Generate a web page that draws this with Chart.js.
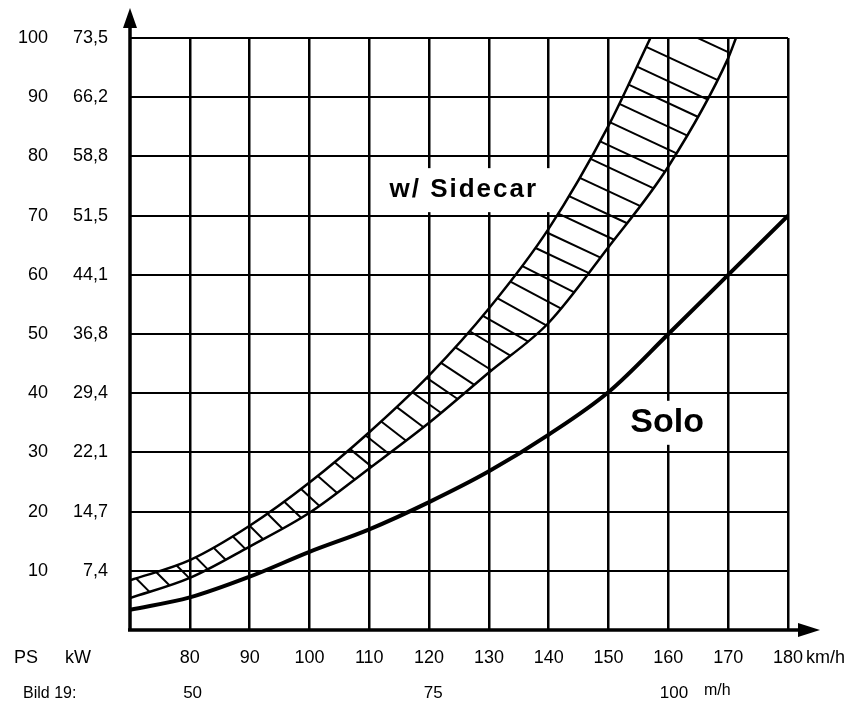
<!DOCTYPE html>
<html>
<head>
<meta charset="utf-8">
<title>Fahrleistung Solo / Seitenwagen</title>
<script src="https://cdn.jsdelivr.net/npm/chart.js@4.4.0/dist/chart.umd.min.js"></script>
<style>
  html, body { margin: 0; padding: 0; background: #fff; }
</style>
</head>
<body>
<canvas id="powerChart" width="847" height="703"></canvas>
<script>
// speed in km/h, power in PS
const soloSpeed = [70, 80, 90, 100, 110, 120, 130, 140, 150, 160, 170, 180];
const soloPower = [3.4, 5.5, 9.0, 13.2, 17.0, 21.6, 26.8, 33.0, 40.2, 50, 60, 70];

const sidecarHighSpeed = [70, 80, 90, 100, 110, 120, 130, 140, 150, 157];
const sidecarHighPower = [8.4, 11.8, 17.6, 24.9, 33.4, 43, 54.3, 67.8, 85.2, 100];

const sidecarLowSpeed = [70, 80, 90, 100, 110, 120, 130, 140, 150, 160, 170, 171.3];
const sidecarLowPower = [5.4, 8.8, 14.1, 19.8, 27.3, 35.0, 43.5, 51.9, 64.7, 78.3, 96.6, 100];

const speedTicks = [80, 90, 100, 110, 120, 130, 140, 150, 160, 170, 180];
const psTicks = [10, 20, 30, 40, 50, 60, 70, 80, 90, 100];
const kwLabels = ['7,4', '14,7', '22,1', '29,4', '36,8', '44,1', '51,5', '58,8', '66,2', '73,5'];
const mphTicks = [50, 75, 100];

const KMH_PER_MPH = 1.609344;
const FONT = '"Liberation Sans", Arial, Helvetica, sans-serif';

function pairs(xs, ys) {
  return xs.map((v, i) => ({ x: v, y: ys[i] }));
}

// sample the bezier segments that chart.js computed for a line
function samplePath(points) {
  const out = [];
  for (let i = 0; i < points.length - 1; i++) {
    const a = points[i], b = points[i + 1];
    const c1x = a.cp2x ?? a.x, c1y = a.cp2y ?? a.y;
    const c2x = b.cp1x ?? b.x, c2y = b.cp1y ?? b.y;
    for (let t = 0; t < 1; t += 0.02) {
      const u = 1 - t;
      out.push({
        x: u*u*u*a.x + 3*u*u*t*c1x + 3*u*t*t*c2x + t*t*t*b.x,
        y: u*u*u*a.y + 3*u*u*t*c1y + 3*u*t*t*c2y + t*t*t*b.y
      });
    }
  }
  const last = points[points.length - 1];
  out.push({ x: last.x, y: last.y });
  // run on past the end along the last direction, only for the hatching (clipped)
  const pre = out[out.length - 2];
  const dx = last.x - pre.x, dy = last.y - pre.y, dl = Math.hypot(dx, dy);
  for (let k = 1; k <= 12; k++) out.push({ x: last.x + dx / dl * 10 * k, y: last.y + dy / dl * 10 * k });
  return out;
}

// distance along ray p + s*n to the polyline, or null
function rayHit(p, n, path) {
  let best = null;
  for (let i = 1; i < path.length; i++) {
    const a = path[i - 1], b = path[i];
    const ex = b.x - a.x, ey = b.y - a.y;
    const den = n.x * ey - n.y * ex;
    if (Math.abs(den) < 1e-9) continue;
    const dx = a.x - p.x, dy = a.y - p.y;
    const s = (dx * ey - dy * ex) / den;
    const t = (dx * n.y - dy * n.x) / den;
    if (s > 0 && t >= 0 && t <= 1 && (best === null || s < best)) best = s;
  }
  return best;
}

const hatchPlugin = {
  id: 'hatch',
  beforeDatasetsDraw(chart) {
    const upper = samplePath(chart.getDatasetMeta(1).data);
    const lower = samplePath(chart.getDatasetMeta(2).data);
    const { ctx, chartArea } = chart;
    ctx.save();
    ctx.beginPath();
    ctx.rect(chartArea.left, chartArea.top, chartArea.width, chartArea.height);
    ctx.clip();
    ctx.strokeStyle = '#000';
    ctx.lineWidth = 2;
    let dist = 0, next = 6;
    for (let i = 1; i < upper.length - 1; i++) {
      const p0 = upper[i - 1], p1 = upper[i], p2 = upper[i + 1];
      dist += Math.hypot(p1.x - p0.x, p1.y - p0.y);
      if (dist < next) continue;
      next += 21;
      // hatch angle follows the band's slope a little
      const band = Math.atan2(p0.y - p2.y, p2.x - p0.x) * 180 / Math.PI;
      const ang = Math.min(45, Math.max(25, 80 - band)) * Math.PI / 180;
      const n = { x: Math.cos(ang), y: Math.sin(ang) };
      const s = rayHit(p1, n, lower);
      if (s === null) continue;
      ctx.beginPath();
      ctx.moveTo(p1.x, p1.y);
      ctx.lineTo(p1.x + n.x * s, p1.y + n.y * s);
      ctx.stroke();
    }
    ctx.restore();
  }
};

// curve names inside the plot, placed in data units
const curveNotes = [
  { text: 'w/ Sidecar', x: 125.8, y: 74.3, size: 26, spacing: 2 },
  { text: 'Solo', x: 159.8, y: 35.0, size: 34, spacing: 0 }
];

const notePlugin = {
  id: 'notes',
  afterDatasetsDraw(chart) {
    const { ctx, scales: { x, y } } = chart;
    ctx.save();
    curveNotes.forEach(n => {
      ctx.font = 'bold ' + n.size + 'px ' + FONT;
      ctx.letterSpacing = n.spacing + 'px';
      const w = ctx.measureText(n.text).width;
      const px = x.getPixelForValue(n.x), py = y.getPixelForValue(n.y);
      const half = Math.min(22, n.size * 0.85);
      ctx.fillStyle = '#fff';
      ctx.fillRect(px - w / 2 - 12, py - half, w + 24, half * 2);
      ctx.fillStyle = '#000';
      ctx.textAlign = 'center';
      ctx.textBaseline = 'middle';
      ctx.fillText(n.text, px, py);
    });
    ctx.restore();
  }
};

const axisPlugin = {
  id: 'axisArrows',
  afterDraw(chart) {
    const { ctx, chartArea: a } = chart;
    ctx.save();
    ctx.strokeStyle = '#000';
    ctx.fillStyle = '#000';
    ctx.lineWidth = 3.5;
    ctx.beginPath();
    ctx.moveTo(a.left, a.bottom + 1);
    ctx.lineTo(a.left, 22);
    ctx.moveTo(a.left - 2, a.bottom);
    ctx.lineTo(a.right + 14, a.bottom);
    ctx.stroke();
    // arrow heads
    ctx.beginPath();
    ctx.moveTo(a.left, 8);
    ctx.lineTo(a.left - 7, 28);
    ctx.lineTo(a.left + 7, 28);
    ctx.closePath();
    ctx.fill();
    ctx.beginPath();
    ctx.moveTo(a.right + 32, a.bottom);
    ctx.lineTo(a.right + 10, a.bottom - 7);
    ctx.lineTo(a.right + 10, a.bottom + 7);
    ctx.closePath();
    ctx.fill();

    // unit captions
    const xs = chart.scales.x, ms = chart.scales.mph;
    const rowY = xs.top + 28;
    const mphY = ms.top + 19;
    ctx.textBaseline = 'middle';
    ctx.font = '18px ' + FONT;
    ctx.textAlign = 'left';
    ctx.fillText('PS', a.left - 116, rowY);
    ctx.fillText('kW', a.left - 65, rowY);
    ctx.fillText('km/h', a.right + 18, rowY);
    ctx.font = '16px ' + FONT;
    ctx.fillText('m/h', ms.getPixelForValue(100) + 30, mphY - 3);
    ctx.fillText('Bild 19:', a.left - 107, mphY);
    ctx.restore();
  }
};

new Chart(document.getElementById('powerChart'), {
  type: 'line',
  data: {
    datasets: [
      {
        label: 'Solo',
        data: pairs(soloSpeed, soloPower),
        borderColor: '#000',
        borderWidth: 4,
        pointRadius: 0,
        cubicInterpolationMode: 'monotone',
        fill: false
      },
      {
        label: 'w/ Sidecar (upper)',
        data: pairs(sidecarHighSpeed, sidecarHighPower),
        borderColor: '#000',
        borderWidth: 2.5,
        pointRadius: 0,
        cubicInterpolationMode: 'monotone',
        fill: false
      },
      {
        label: 'w/ Sidecar (lower)',
        data: pairs(sidecarLowSpeed, sidecarLowPower),
        borderColor: '#000',
        borderWidth: 2.5,
        pointRadius: 0,
        cubicInterpolationMode: 'monotone',
        fill: false
      }
    ]
  },
  options: {
    responsive: false,
    animation: false,
    layout: { padding: { top: 38, right: 59, left: 0, bottom: 0 } },
    plugins: {
      legend: { display: false },
      tooltip: { enabled: false }
    },
    scales: {
      x: {
        type: 'linear',
        position: 'bottom',
        min: 70,
        max: 180,
        weight: 0,
        afterBuildTicks: s => { s.ticks = speedTicks.map(v => ({ value: v })); },
        afterFit: s => { s.height = 45; },
        grid: { color: '#000', lineWidth: 2.5, drawTicks: false },
        border: { display: false },
        ticks: { color: '#000', font: { family: FONT, size: 18 }, padding: 17, maxRotation: 0 }
      },
      mph: {
        type: 'linear',
        position: 'bottom',
        min: 70 / KMH_PER_MPH,
        max: 180 / KMH_PER_MPH,
        weight: 1,
        afterBuildTicks: s => { s.ticks = mphTicks.map(v => ({ value: v })); },
        afterFit: s => { s.height = 28; },
        grid: { display: false, drawTicks: false },
        border: { display: false },
        ticks: { color: '#000', font: { family: FONT, size: 17 }, padding: 8, maxRotation: 0 }
      },
      y: {
        type: 'linear',
        position: 'left',
        min: 0,
        max: 100,
        weight: 0,
        afterBuildTicks: s => { s.ticks = psTicks.map(v => ({ value: v })); },
        afterFit: s => { s.width = 75; },
        grid: { color: '#000', lineWidth: 2, drawTicks: false },
        border: { display: false },
        ticks: {
          color: '#000',
          font: { family: FONT, size: 18 },
          padding: 22,
          callback: v => kwLabels[psTicks.indexOf(v)]
        }
      },
      ps: {
        type: 'linear',
        position: 'left',
        min: 0,
        max: 100,
        weight: 1,
        afterBuildTicks: s => { s.ticks = psTicks.map(v => ({ value: v })); },
        afterFit: s => { s.width = 55; },
        grid: { display: false, drawTicks: false },
        border: { display: false },
        ticks: { color: '#000', font: { family: FONT, size: 18 }, padding: 7 }
      }
    }
  },
  plugins: [hatchPlugin, notePlugin, axisPlugin]
});
</script>
</body>
</html>
